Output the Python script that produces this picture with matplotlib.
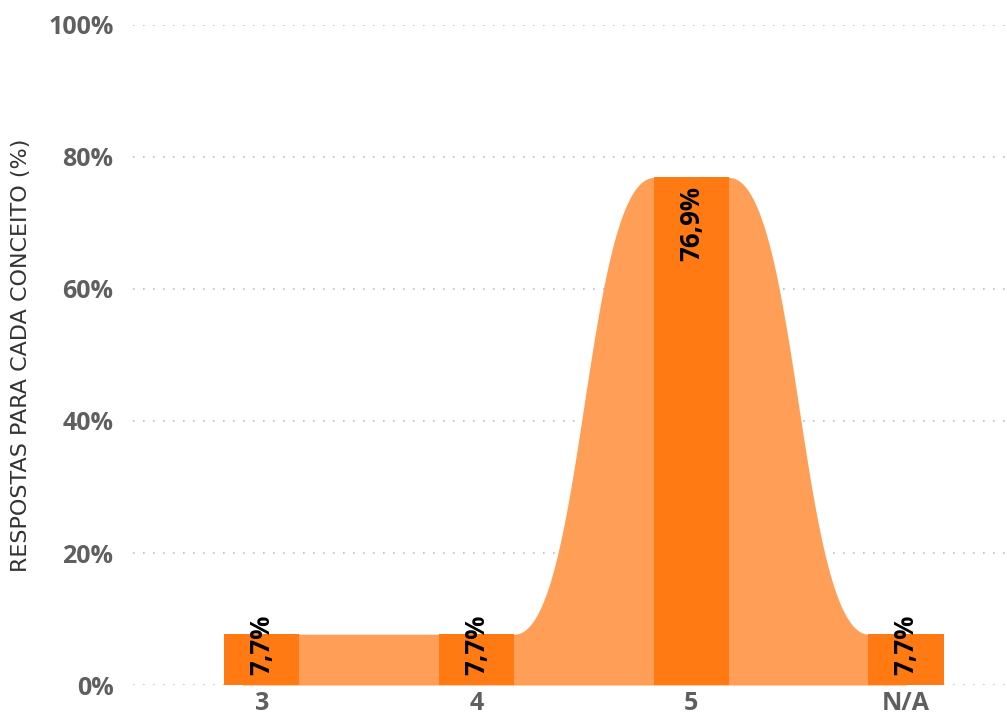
import numpy as np
import matplotlib
matplotlib.use("Agg")
import matplotlib.pyplot as plt

categories = ["3", "4", "5", "N/A"]
values = [7.7, 7.7, 76.9, 7.7]
labels = ["7,7%", "7,7%", "76,9%", "7,7%"]
yticks = [0, 20, 40, 60, 80, 100]
ytick_labels = ["0%", "20%", "40%", "60%", "80%", "100%"]
ylabel = "RESPOSTAS PARA CADA CONCEITO (%)"

dark = "#FF7A12"
light = "#FF9F57"
tick_color = "#5f5f5f"

plt.rcParams['font.family'] = ['Open Sans', 'DejaVu Sans']

fig = plt.figure(figsize=(10.07, 7.2), dpi=100)
ax = fig.add_axes([0.132, 0.0486, 0.868, 0.9167])

x = np.arange(len(categories))
w = 0.35

# smooth connecting area (drawn beneath the bars)
xs, ys = [], []
for i in range(len(values)):
    xs += [x[i] - w / 4, x[i] + w / 2]
    ys += [values[i], values[i]]
    if i < len(values) - 1:
        x0, x1 = x[i] + w / 2, x[i + 1] - w / 2
        y0, y1 = values[i], values[i + 1]
        t = np.linspace(0, 1, 100)
        dx = (x1 - x0) / 2
        bx = (1 - t) ** 3 * x0 + 3 * (1 - t) ** 2 * t * (x0 + dx) + 3 * (1 - t) * t ** 2 * (x1 - dx) + t ** 3 * x1
        by = (1 - t) ** 3 * y0 + 3 * (1 - t) ** 2 * t * y0 + 3 * (1 - t) * t ** 2 * y1 + t ** 3 * y1
        xs += list(bx)
        ys += list(by)
xs[-1] = x[-1]
ax.fill_between(np.array(xs), 0, np.array(ys), color=light, lw=0, zorder=2)

ax.bar(x, values, width=w, color=dark, linewidth=0, zorder=3)

for xi, v, lab in zip(x, values, labels):
    if v > 30:
        ax.annotate(lab, (xi, v), xytext=(0, -6), textcoords="offset points",
                    rotation=90, ha="center", va="top", fontsize=18.5,
                    fontweight="bold", color="black", zorder=5)
    else:
        ax.annotate(lab, (xi, 0), xytext=(0, 7), textcoords="offset points",
                    rotation=90, ha="center", va="bottom", fontsize=18.5,
                    fontweight="bold", color="black", zorder=5)

ax.set_xlim(-0.6, 3.47)
ax.set_ylim(0, 100)
ax.set_yticks(yticks)
ax.set_yticklabels(ytick_labels)
ax.set_xticks(x)
ax.set_xticklabels(categories)
for lbl in ax.get_yticklabels() + ax.get_xticklabels():
    lbl.set_fontweight("bold")
    lbl.set_fontsize(18)
    lbl.set_color(tick_color)
ax.tick_params(axis="both", length=0)
ax.tick_params(axis="y", pad=14)
ax.tick_params(axis="x", pad=4)
ax.yaxis.grid(True, linestyle=(0, (1, 5)), color="#bdbdbd", linewidth=1.2, zorder=1)
ax.set_axisbelow(True)
for s in ax.spines.values():
    s.set_visible(False)
ax.set_ylabel(ylabel, fontsize=16, color="#333333", labelpad=12,
              family=['DejaVu Sans'])

fig.savefig("out.png", dpi=100)
